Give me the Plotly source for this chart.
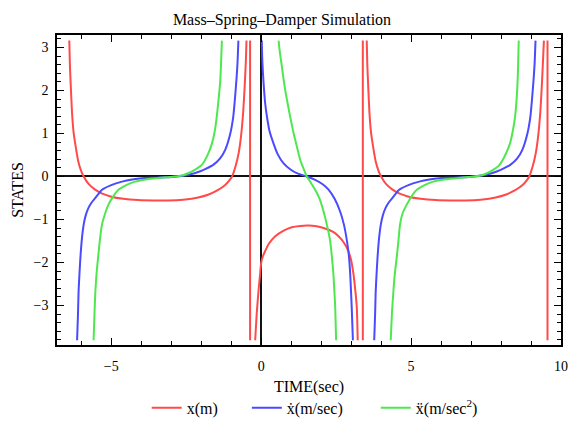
import plotly.graph_objects as go

# ---------------- data ----------------
# x(m)  (red) : segments separated by None
red_left_t = [-6.40, -6.38, -6.35, -6.31, -6.26, -6.20, -6.10, -6.00, -5.92, -5.75, -5.55, -5.30, -5.00, -4.60,
              -4.10, -3.60, -3.10, -2.60, -2.10, -1.75, -1.45, -1.20, -1.05, -0.97, -0.85, -0.75, -0.67, -0.60,
              -0.55, -0.51, -0.49]
red_left_v = [3.16, 2.60, 2.10, 1.50, 1.05, 0.75, 0.35, 0.12, 0.00, -0.18, -0.30, -0.40, -0.47, -0.52,
              -0.55, -0.56, -0.56, -0.54, -0.49, -0.42, -0.32, -0.20, -0.08, 0.00, 0.25, 0.55, 0.95, 1.50,
              2.10, 2.70, 3.16]
red_jump1_t = [-0.37, -0.37]
red_jump1_v = [3.16, -3.81]
red_mid_t = [-0.20, -0.15, -0.09, -0.04, 0.00, 0.06, 0.13, 0.25, 0.47, 0.75, 1.02, 1.30, 1.58, 1.85, 2.13,
             2.40, 2.58, 2.75, 2.91, 3.00, 3.08, 3.14, 3.19, 3.22]
red_mid_v = [-3.81, -3.20, -2.67, -2.30, -2.01, -1.85, -1.74, -1.57, -1.39, -1.26, -1.18, -1.15, -1.14, -1.16,
             -1.21, -1.29, -1.39, -1.53, -1.74, -1.95, -2.28, -2.65, -3.05, -3.81]
red_jump2_t = [3.39, 3.39]
red_jump2_v = [-3.81, 3.16]
red_right_t = [3.52, 3.54, 3.57, 3.61, 3.66, 3.72, 3.82, 3.92, 4.00, 4.17, 4.37, 4.62, 4.92, 5.32, 5.82,
               6.32, 6.82, 7.32, 7.82, 8.17, 8.47, 8.72, 8.87, 8.94, 9.06, 9.16, 9.24, 9.31, 9.36, 9.40, 9.43]
red_right_v = [3.16, 2.60, 2.10, 1.50, 1.05, 0.75, 0.35, 0.12, 0.00, -0.18, -0.30, -0.40, -0.47, -0.52,
               -0.55, -0.56, -0.56, -0.54, -0.49, -0.42, -0.32, -0.20, -0.08, 0.00, 0.25, 0.55, 0.95, 1.50,
               2.10, 2.70, 3.16]
red_jump3_t = [9.55, 9.55]
red_jump3_v = [3.16, -3.81]

# xdot (blue)
blue_left_t = [-6.14, -6.11, -6.09, -6.06, -6.03, -5.98, -5.92, -5.85, -5.76, -5.65, -5.53, -5.31, -5.00,
               -4.64, -4.30, -3.98, -3.60, -3.20, -2.80, -2.42, -2.03, -1.87, -1.60, -1.37, -1.20, -1.03,
               -0.93, -0.87, -0.82, -0.79, -0.76]
blue_left_v = [-3.81, -3.20, -2.67, -2.25, -1.89, -1.45, -1.12, -0.90, -0.73, -0.60, -0.50, -0.31, -0.20,
               -0.12, -0.07, -0.04, -0.03, -0.02, 0.00, 0.04, 0.12, 0.17, 0.27, 0.42, 0.62, 1.00,
               1.40, 1.85, 2.30, 2.63, 3.16]
blue_mid_t = [0.02, 0.04, 0.08, 0.13, 0.19, 0.28, 0.41, 0.55, 0.74, 1.00, 1.25, 1.52, 1.80, 2.05, 2.24,
              2.45, 2.63, 2.76, 2.86, 2.93, 2.97, 3.02, 3.06]
blue_mid_v = [3.16, 2.65, 2.17, 1.72, 1.40, 1.05, 0.77, 0.52, 0.31, 0.15, 0.06, 0.00, -0.08, -0.18, -0.30,
              -0.52, -0.81, -1.12, -1.50, -1.88, -2.28, -3.05, -3.81]
blue_right_t = [3.77, 3.80, 3.82, 3.85, 3.88, 3.93, 3.99, 4.06, 4.15, 4.26, 4.38, 4.60, 4.91, 5.27, 5.61,
                5.93, 6.31, 6.71, 7.11, 7.49, 7.88, 8.04, 8.31, 8.54, 8.71, 8.88, 8.98, 9.04, 9.09, 9.12,
                9.15]
blue_right_v = [-3.81, -3.20, -2.67, -2.25, -1.89, -1.45, -1.12, -0.90, -0.73, -0.60, -0.50, -0.31, -0.20,
                -0.12, -0.07, -0.04, -0.03, -0.02, 0.00, 0.04, 0.12, 0.17, 0.27, 0.42, 0.62, 1.00,
                1.40, 1.85, 2.30, 2.63, 3.16]

# xddot (green)
green_left_t = [-5.59, -5.56, -5.53, -5.49, -5.44, -5.38, -5.31, -5.20, -5.09, -4.95, -4.76, -4.50, -4.20,
                -3.85, -3.53, -3.20, -2.87, -2.60, -2.42, -2.20, -1.98, -1.80, -1.64, -1.55, -1.48, -1.42,
                -1.37, -1.34, -1.31]
green_left_v = [-3.81, -3.20, -2.67, -2.25, -1.89, -1.48, -1.12, -0.85, -0.65, -0.48, -0.31, -0.20, -0.12,
                -0.07, -0.04, -0.02, 0.00, 0.03, 0.08, 0.16, 0.27, 0.48, 0.77, 1.05, 1.40, 1.80,
                2.17, 2.60, 3.16]
green_mid_t = [0.58, 0.63, 0.69, 0.77, 0.86, 0.97, 1.08, 1.20, 1.30, 1.42, 1.52, 1.66, 1.80, 1.95, 2.08,
               2.20, 2.30, 2.36, 2.41, 2.44, 2.47, 2.50]
green_mid_v = [3.16, 2.85, 2.56, 2.15, 1.78, 1.38, 1.01, 0.67, 0.39, 0.17, 0.00, -0.15, -0.31, -0.52, -0.81,
               -1.15, -1.50, -1.88, -2.28, -2.65, -3.05, -3.81]
green_right_t = [4.32, 4.36, 4.41, 4.46, 4.52, 4.58, 4.63, 4.72, 4.86, 5.00, 5.19, 5.45, 5.74, 6.10, 6.52,
                 6.80, 7.10, 7.35, 7.55, 7.75, 7.95, 8.13, 8.30, 8.39, 8.47, 8.52, 8.55, 8.57, 8.59]
green_right_v = [-3.81, -3.20, -2.67, -2.25, -1.89, -1.48, -1.12, -0.85, -0.65, -0.48, -0.31, -0.20, -0.12,
                 -0.07, -0.04, -0.02, 0.00, 0.03, 0.08, 0.16, 0.27, 0.48, 0.77, 1.05, 1.40, 1.80,
                 2.17, 2.60, 3.16]

series_names = ["x(m)", "ẋ(m/sec)", "ẍ(m/sec<sup>2</sup>)"]
series_colors = ["#ff4a4a", "#4a4aff", "#4ee84e"]
legend_pad = [6, 7, 0]  # extra spacing after each legend entry (non-breaking spaces)

x_ticks = [-5, 0, 5, 10]
y_ticks = [-3, -2, -1, 0, 1, 2, 3]


def join(*segs):
    xs, ys = [], []
    for i in range(0, len(segs), 2):
        if xs:
            xs.append(None)
            ys.append(None)
        xs += segs[i]
        ys += segs[i + 1]
    return xs, ys


red_x, red_y = join(red_left_t, red_left_v, red_jump1_t, red_jump1_v, red_mid_t, red_mid_v,
                    red_jump2_t, red_jump2_v, red_right_t, red_right_v, red_jump3_t, red_jump3_v)
blue_x, blue_y = join(blue_left_t, blue_left_v, blue_mid_t, blue_mid_v, blue_right_t, blue_right_v)
green_x, green_y = join(green_left_t, green_left_v, green_mid_t, green_mid_v, green_right_t, green_right_v)

fig = go.Figure()
for (xs, ys), name, col, pad in zip([(red_x, red_y), (blue_x, blue_y), (green_x, green_y)],
                                     series_names, series_colors, legend_pad):
    fig.add_trace(go.Scatter(x=xs, y=ys, mode="lines", name=name + "\u00a0" * pad,
                             line=dict(color=col, width=2, shape="spline", smoothing=0.6),
                             connectgaps=False))

font_family = "Liberation Serif, Times New Roman, serif"

fig.update_layout(
    width=569, height=421,
    margin=dict(l=57, r=8, t=35, b=76, autoexpand=False),
    paper_bgcolor="white", plot_bgcolor="white",
    font=dict(family=font_family, color="black", size=14),
    title=dict(text="Mass–Spring–Damper Simulation", x=282 / 569, xanchor="center",
               y=1 - 19 / 421, yanchor="middle", font=dict(size=16, family=font_family)),
    showlegend=True,
    legend=dict(orientation="h", x=0.178, xanchor="left", y=-0.203, yanchor="middle",
                font=dict(size=16, family=font_family), itemwidth=30, bgcolor="rgba(0,0,0,0)"),
)

fig.update_xaxes(
    range=[-6.81, 10.0], tickvals=x_ticks, ticktext=[str(v).replace("-", "−") for v in x_ticks],
    ticks="inside", ticklen=7, tickwidth=1, tickcolor="black", ticklabelstandoff=7,
    minor=dict(dtick=1, tick0=0, ticks="inside", ticklen=4, tickcolor="black", showgrid=False),
    showline=True, linecolor="black", linewidth=1.5, mirror="allticks",
    showgrid=False, zeroline=True, zerolinecolor="#111", zerolinewidth=1.5,
    title=dict(text="TIME(sec)", font=dict(size=16, family=font_family), standoff=8),
    tickfont=dict(size=14, family=font_family),
)
fig.update_yaxes(
    range=[-3.92, 3.29], tickvals=y_ticks, ticktext=[str(v).replace("-", "−") for v in y_ticks],
    ticks="inside", ticklen=7, tickwidth=1, tickcolor="black", ticklabelstandoff=4,
    minor=dict(dtick=0.2, tick0=0, ticks="inside", ticklen=4, tickcolor="black", showgrid=False),
    showline=True, linecolor="black", linewidth=1.5, mirror="allticks",
    showgrid=False, zeroline=True, zerolinecolor="#111", zerolinewidth=1.5,
    title=dict(text="STATES", font=dict(size=16, family=font_family), standoff=6),
    tickfont=dict(size=14, family=font_family),
)

fig.write_html("out.html", config={"displayModeBar": False},
               post_script="document.body.style.margin='0';")
